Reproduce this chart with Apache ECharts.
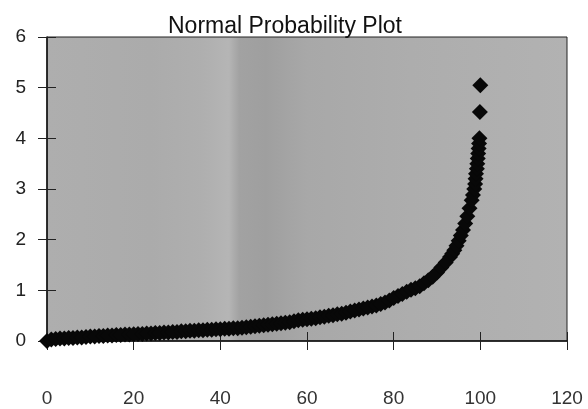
<!DOCTYPE html>
<html>
<head>
<meta charset="utf-8">
<script src="https://cdn.jsdelivr.net/npm/echarts@6/dist/echarts.min.js"></script>
<style>
html,body{margin:0;padding:0;background:#fff;}
#c{width:588px;height:409px;}
</style>
</head>
<body>
<div id="c"></div>
<script>
var titleText = "Normal Probability Plot";
var xTicks = [0, 20, 40, 60, 80, 100, 120];
var yTicks = [0, 1, 2, 3, 4, 5, 6];

// percentile (x) and sorted value (y)
var percentiles = [
  0, 1, 2, 3, 4, 5, 6, 7, 8, 9, 10, 11, 12, 13, 14, 15, 16, 17, 18, 19,
  20, 21, 22, 23, 24, 25, 26, 27, 28, 29, 30, 31, 32, 33, 34, 35, 36, 37, 38, 39,
  40, 41, 42, 43, 44, 45, 46, 47, 48, 49, 50, 51, 52, 53, 54, 55, 56, 57, 58, 59,
  60, 61, 62, 63, 64, 65, 66, 67, 68, 69, 70, 71, 72, 73, 74, 75, 76, 77, 78, 79,
  80, 81, 82, 83, 84, 85, 86, 87, 88, 89, 90, 91, 92, 93,
  93.5, 94, 94.5, 95, 95.5, 96, 96.5, 97, 97.5, 98,
  98.3, 98.6, 98.8, 98.9, 99.0, 99.2, 99.3, 99.4, 99.5, 99.6, 99.7, 99.8, 99.9, 100
];
var values = [
  0.00, 0.03, 0.04, 0.05, 0.05, 0.06, 0.06, 0.07, 0.07, 0.08, 0.09, 0.09, 0.10, 0.10, 0.11, 0.11, 0.12, 0.12, 0.13, 0.13,
  0.135, 0.14, 0.14, 0.15, 0.15, 0.16, 0.16, 0.17, 0.17, 0.18, 0.18, 0.19, 0.19, 0.20, 0.20, 0.21, 0.21, 0.22, 0.22, 0.23,
  0.23, 0.24, 0.24, 0.25, 0.25, 0.26, 0.27, 0.28, 0.29, 0.30, 0.31, 0.32, 0.33, 0.34, 0.35, 0.36, 0.37, 0.39, 0.41, 0.42,
  0.43, 0.44, 0.45, 0.47, 0.48, 0.50, 0.51, 0.53, 0.54, 0.56, 0.58, 0.60, 0.62, 0.64, 0.66, 0.68, 0.70, 0.73, 0.76, 0.80,
  0.85, 0.89, 0.93, 0.97, 1.01, 1.04, 1.08, 1.14, 1.20, 1.27, 1.35, 1.45, 1.55, 1.66,
  1.72, 1.79, 1.88, 1.98, 2.08, 2.19, 2.32, 2.46, 2.62, 2.78,
  2.88, 3.00, 3.10, 3.20, 3.30, 3.40, 3.50, 3.60, 3.70, 3.80, 3.90, 4.00, 4.52, 5.05
];

var points = percentiles.map(function (p, i) { return [p, values[i]]; });

var chart = echarts.init(document.getElementById('c'), null, {renderer: 'canvas'});
var font = 'Liberation Sans, Arial, sans-serif';
var bg = new echarts.graphic.LinearGradient(0, 0, 1, 0, [
  {offset: 0.00, color: '#aeaeae'},
  {offset: 0.20, color: '#ababab'},
  {offset: 0.30, color: '#afafaf'},
  {offset: 0.35, color: '#b5b5b5'},
  {offset: 0.37, color: '#a2a2a2'},
  {offset: 0.42, color: '#9f9f9f'},
  {offset: 0.50, color: '#a8a8a8'},
  {offset: 0.70, color: '#adadad'},
  {offset: 1.00, color: '#b2b2b2'}
]);

chart.setOption({
  animation: false,
  backgroundColor: '#ffffff',
  title: {
    text: titleText,
    left: 163,
    top: 10,
    textStyle: {fontFamily: font, fontSize: 23, fontWeight: 'normal', color: '#111'}
  },
  grid: {
    left: 47, right: 21, top: 37, bottom: 68,
    show: true,
    backgroundColor: bg,
    borderColor: '#222',
    borderWidth: 1
  },
  xAxis: [{
    type: 'value', min: xTicks[0], max: xTicks[xTicks.length - 1], interval: 20,
    position: 'bottom',
    axisLine: {show: true, lineStyle: {color: '#111', width: 1.5}},
    axisTick: {show: true, inside: false, length: 9, lineStyle: {color: '#222'}},
    axisLabel: {margin: 48, fontFamily: font, fontSize: 19, color: '#333'},
    splitLine: {show: false}
  }, {
    type: 'value', min: xTicks[0], max: xTicks[xTicks.length - 1], interval: 20,
    position: 'bottom',
    axisLine: {show: false},
    axisTick: {show: true, inside: true, length: 9, lineStyle: {color: '#222'}},
    axisLabel: {show: false},
    splitLine: {show: false}
  }],
  yAxis: [{
    type: 'value', min: yTicks[0], max: yTicks[yTicks.length - 1], interval: 1,
    position: 'left',
    axisLine: {show: true, lineStyle: {color: '#111', width: 1.5}},
    axisTick: {show: true, inside: false, length: 9, lineStyle: {color: '#222'}},
    axisLabel: {margin: 21, fontFamily: font, fontSize: 19, color: '#222'},
    splitLine: {show: false}
  }, {
    type: 'value', min: yTicks[0], max: yTicks[yTicks.length - 1], interval: 1,
    position: 'left',
    axisLine: {show: false},
    axisTick: {show: true, inside: true, length: 9, lineStyle: {color: '#222'}},
    axisLabel: {show: false},
    splitLine: {show: false}
  }],
  series: [{
    type: 'scatter',
    xAxisIndex: 0,
    yAxisIndex: 0,
    symbol: 'diamond',
    symbolSize: 16,
    itemStyle: {color: '#080808', opacity: 1},
    data: points
  }]
});
</script>
</body>
</html>
